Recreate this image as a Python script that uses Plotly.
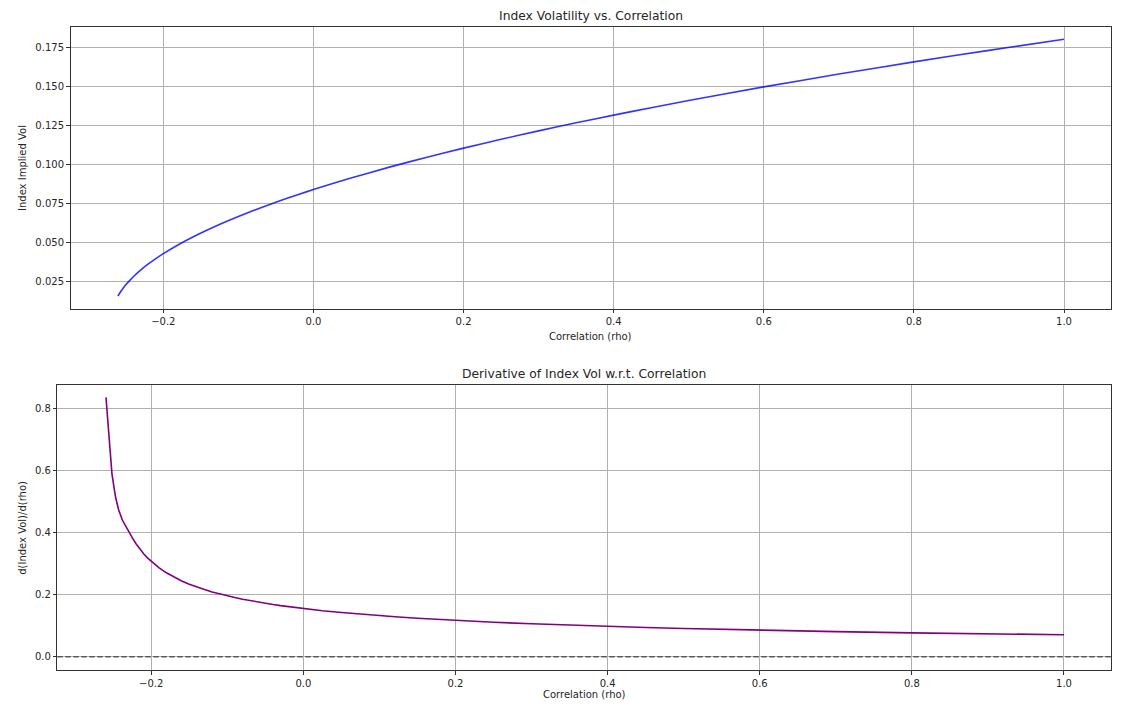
import plotly.graph_objects as go

# ---------------- data ----------------
rho_vol = [-0.2605, -0.2580, -0.2550, -0.2500, -0.2450, -0.2400, -0.2300, -0.2200,
           -0.2100, -0.2000, -0.1800, -0.1600, -0.1400, -0.1200, -0.1000, -0.0800,
           -0.0600, -0.0400, -0.0200, 0.0000, 0.0500, 0.1000, 0.1500, 0.2000,
           0.2500, 0.3000, 0.3500, 0.4000, 0.4500, 0.5000, 0.6000, 0.7000,
           0.8000, 0.9000, 1.0000]
index_vol = [0.01526, 0.01728, 0.01942, 0.02254, 0.02526, 0.02774, 0.03211, 0.03595,
             0.03942, 0.04260, 0.04834, 0.05347, 0.05814, 0.06247, 0.06650, 0.07031,
             0.07392, 0.07735, 0.08064, 0.08380, 0.09121, 0.09805, 0.10443, 0.11043,
             0.11612, 0.12153, 0.12670, 0.13166, 0.13643, 0.14103, 0.14979, 0.15804,
             0.16586, 0.17329, 0.18040]

rho_deriv = [-0.2595, -0.2516, -0.2470, -0.2430, -0.2380, -0.2300, -0.2250, -0.2200,
             -0.2150, -0.2100, -0.2050, -0.2000, -0.1900, -0.1800, -0.1700, -0.1600,
             -0.1500, -0.1400, -0.1300, -0.1200, -0.1100, -0.1000, -0.0900, -0.0800,
             -0.0700, -0.0600, -0.0500, -0.0400, -0.0300, -0.0200, -0.0100, 0.0000,
             0.0250, 0.0500, 0.0750, 0.1000, 0.1250, 0.1500, 0.2000, 0.2500,
             0.3000, 0.3500, 0.4000, 0.4500, 0.5000, 0.6000, 0.7000, 0.8000,
             0.9000, 1.0000]
deriv_vol = [0.835, 0.588, 0.515, 0.474, 0.440, 0.402, 0.3834, 0.3635,
             0.3464, 0.3314, 0.3183, 0.3066, 0.2866, 0.2700, 0.2560, 0.2439,
             0.2334, 0.2242, 0.2160, 0.2085, 0.2019, 0.1958, 0.1902, 0.1850,
             0.1803, 0.1759, 0.1718, 0.1680, 0.1644, 0.1610, 0.1578, 0.1548,
             0.1480, 0.1420, 0.1367, 0.1319, 0.1276, 0.1236, 0.1167, 0.1108,
             0.1057, 0.1012, 0.0975, 0.0940, 0.0908, 0.0852, 0.0806, 0.0767,
             0.0734, 0.0704]
zero_level = 0.0

top_title = "Index Volatility vs. Correlation"
bottom_title = "Derivative of Index Vol w.r.t. Correlation"
x_label = "Correlation (rho)"
top_ylabel = "Index Implied Vol"
bottom_ylabel = "d(Index Vol)/d(rho)"

# ---------------- layout helpers ----------------
W, H = 1129, 706
OFF = 8  # page body margin in front of the figure
FONT = "DejaVu Sans"
TXT = "#262626"


def px_x(p):
    return (p - OFF) / W


def px_y(p):
    return 1 - (p - OFF) / H


# axes boxes in page pixels (left, right, top, bottom)
top_box = (70.5, 1111, 27.3, 308.7)
bot_box = (57.3, 1111, 385.3, 670.3)

fig = go.Figure()
fig.add_trace(go.Scatter(x=rho_vol, y=index_vol, mode="lines",
                         line=dict(color="rgba(0,0,255,0.8)", width=1.6, shape="spline",
                                   smoothing=0.6),
                         xaxis="x", yaxis="y", showlegend=False))
fig.add_trace(go.Scatter(x=rho_deriv, y=deriv_vol, mode="lines",
                         line=dict(color="#800080", width=1.6),
                         xaxis="x2", yaxis="y2", showlegend=False))

fig.add_shape(type="line", xref="x2 domain", yref="y2", x0=0, x1=1,
              y0=zero_level, y1=zero_level,
              line=dict(color="rgba(64,64,64,0.8)", width=1.5, dash="5.5px,2.5px"))

axis_common = dict(
    showgrid=True, gridcolor="#b0b0b0", gridwidth=0.8,
    showline=True, linecolor="#333333", linewidth=1, mirror=True,
    ticks="outside", ticklen=3.5, tickwidth=0.8, tickcolor="#333333",
    zeroline=False, tickfont=dict(family=FONT, size=10, color=TXT),
)

fig.update_layout(
    width=W, height=H,
    margin=dict(l=0, r=0, t=0, b=0),
    paper_bgcolor="white", plot_bgcolor="white",
    font=dict(family=FONT, color=TXT),
    xaxis=dict(domain=[px_x(top_box[0]), px_x(top_box[1])], anchor="y",
               range=[-0.3237, 1.0626], tickmode="array",
               tickvals=[-0.2, 0.0, 0.2, 0.4, 0.6, 0.8, 1.0], tickformat=".1f",
               **axis_common),
    yaxis=dict(domain=[px_y(top_box[3]), px_y(top_box[2])], anchor="x",
               range=[0.0072, 0.1881], tickmode="array",
               tickvals=[0.025, 0.05, 0.075, 0.1, 0.125, 0.15, 0.175], tickformat=".3f",
               **axis_common),
    xaxis2=dict(domain=[px_x(bot_box[0]), px_x(bot_box[1])], anchor="y2",
                range=[-0.3235, 1.0618], tickmode="array",
                tickvals=[-0.2, 0.0, 0.2, 0.4, 0.6, 0.8, 1.0], tickformat=".1f",
                **axis_common),
    yaxis2=dict(domain=[px_y(bot_box[3]), px_y(bot_box[2])], anchor="x2",
                range=[-0.044, 0.874], tickmode="array",
                tickvals=[0.0, 0.2, 0.4, 0.6, 0.8], tickformat=".1f",
                **axis_common),
)

ann = []
ann.append(dict(text=top_title, x=px_x((top_box[0] + top_box[1]) / 2), y=px_y(16),
                font=dict(size=12.3, family=FONT, color=TXT)))
ann.append(dict(text=bottom_title, x=px_x((bot_box[0] + bot_box[1]) / 2), y=px_y(374),
                font=dict(size=12.3, family=FONT, color=TXT)))
ann.append(dict(text=x_label, x=px_x((top_box[0] + top_box[1]) / 2), y=px_y(336.5),
                font=dict(size=10, family=FONT, color=TXT)))
ann.append(dict(text=x_label, x=px_x((bot_box[0] + bot_box[1]) / 2), y=px_y(694.5),
                font=dict(size=10, family=FONT, color=TXT)))
ann.append(dict(text=top_ylabel, x=px_x(22), y=px_y((top_box[2] + top_box[3]) / 2),
                textangle=-90, font=dict(size=10, family=FONT, color=TXT)))
ann.append(dict(text=bottom_ylabel, x=px_x(23), y=px_y((bot_box[2] + bot_box[3]) / 2),
                textangle=-90, font=dict(size=10, family=FONT, color=TXT)))
for a in ann:
    a.update(xref="paper", yref="paper", showarrow=False,
             xanchor="center", yanchor="middle")
fig.update_layout(annotations=ann)

fig.write_html("out.html")
